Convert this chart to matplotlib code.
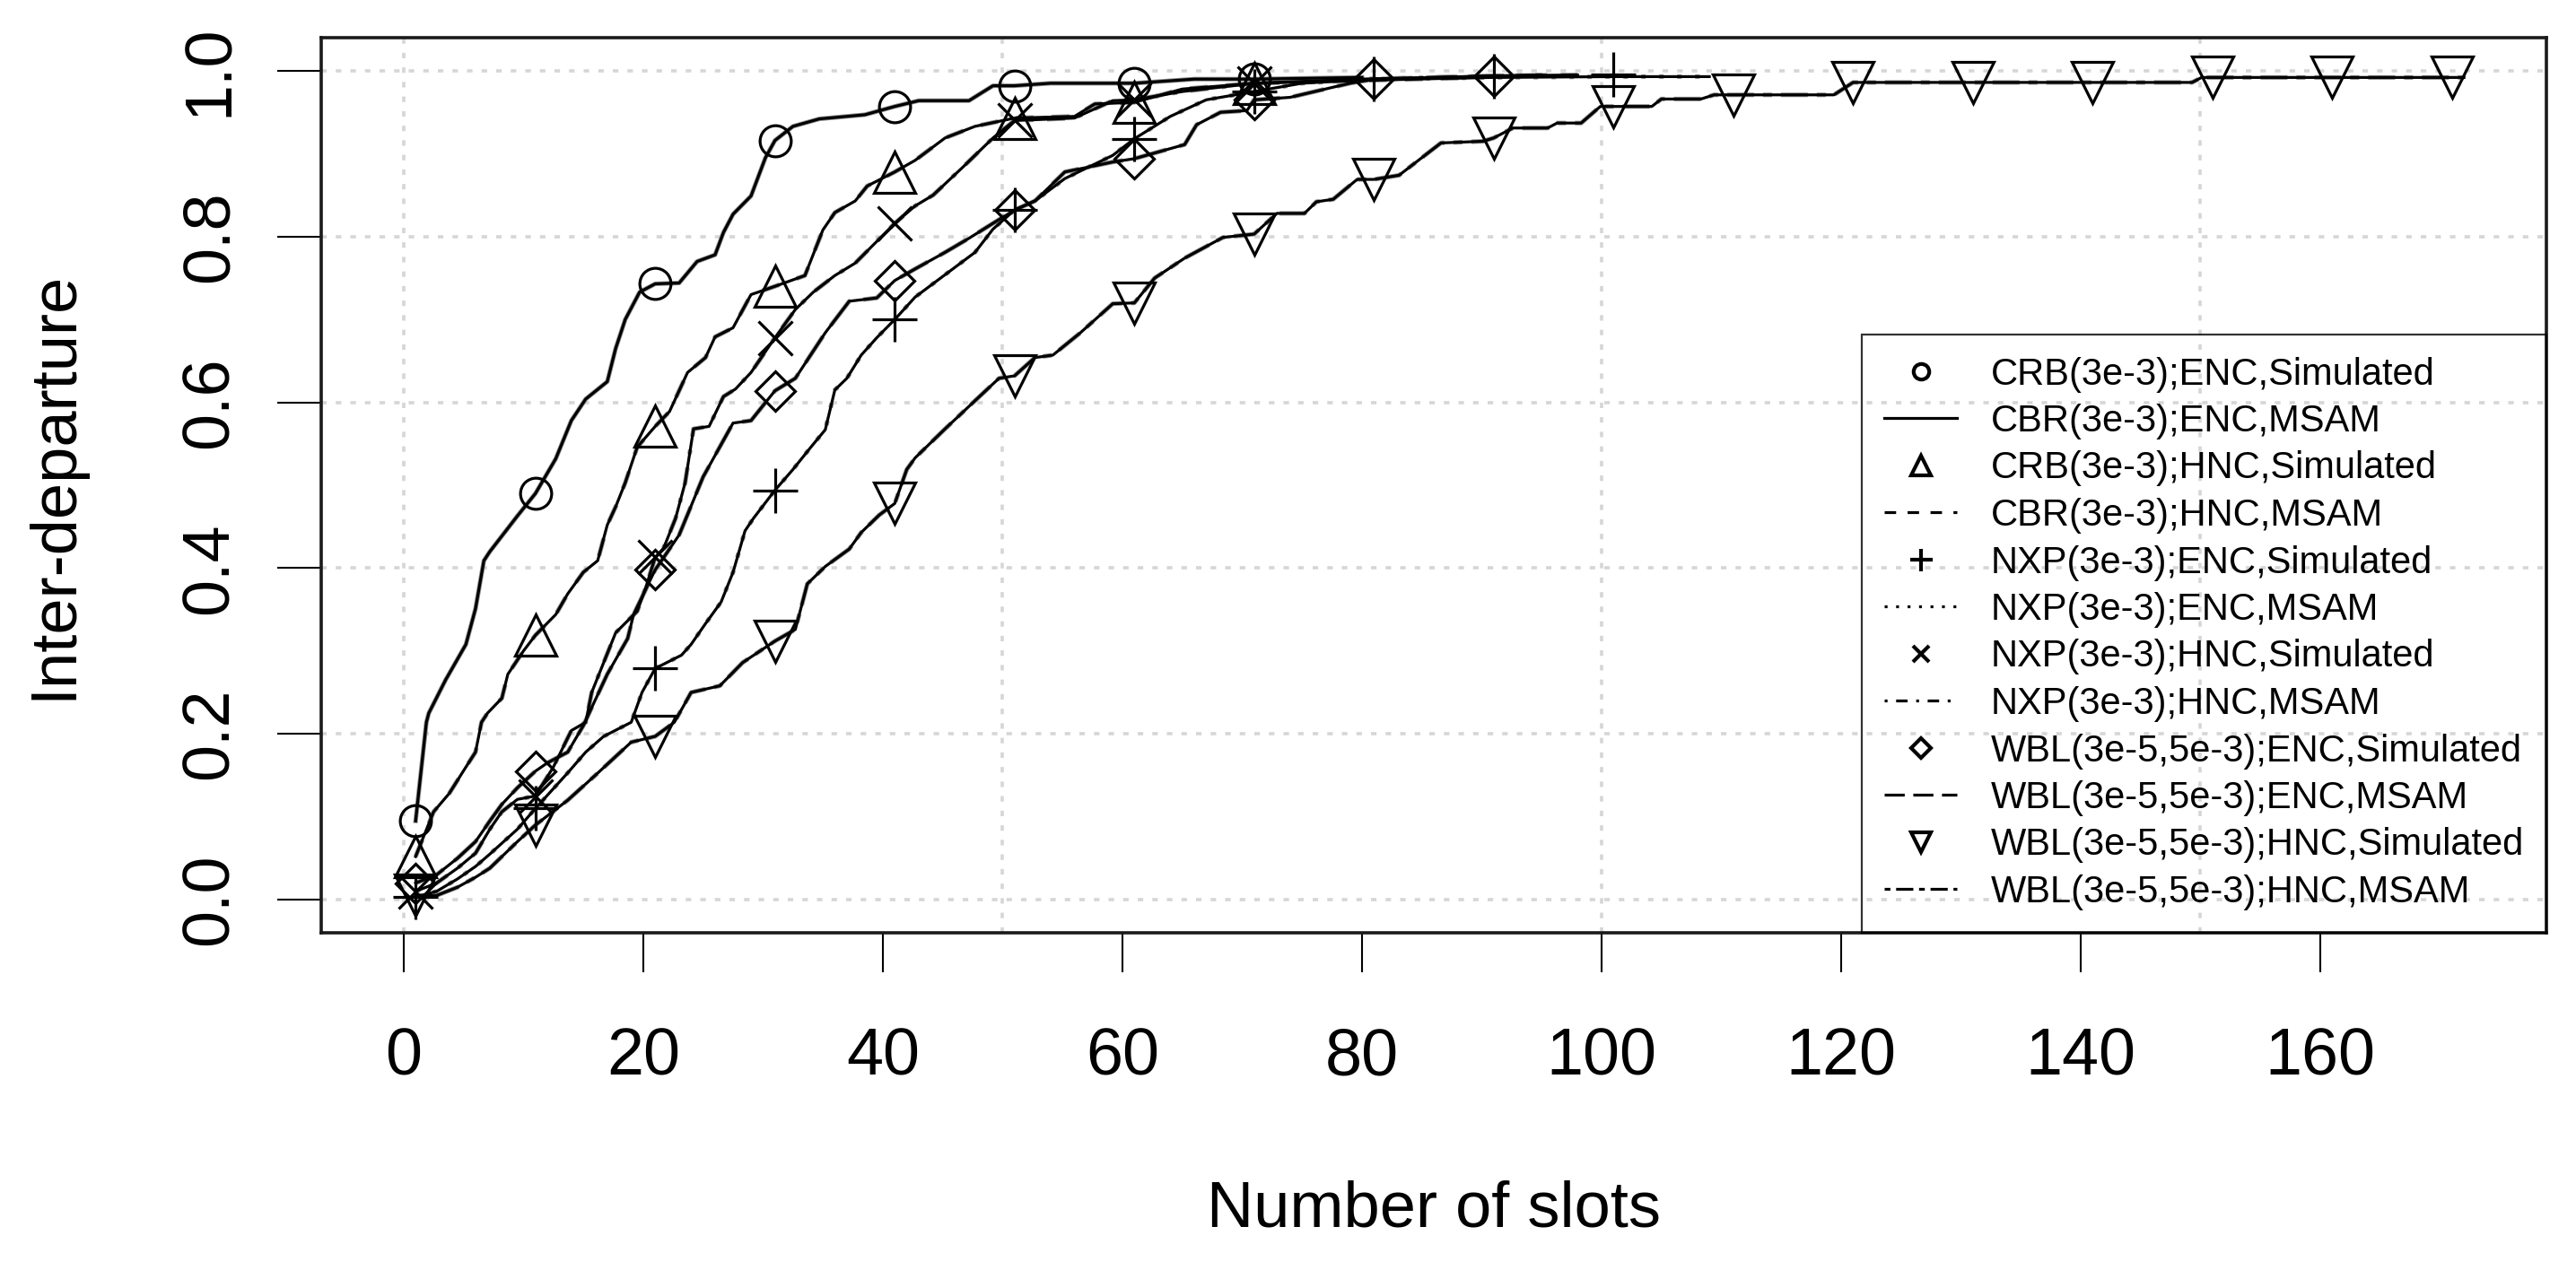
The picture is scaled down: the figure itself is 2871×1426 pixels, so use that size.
import matplotlib
matplotlib.use("Agg")
import matplotlib.pyplot as plt
from matplotlib.lines import Line2D

plt.rcParams['font.family'] = ['Liberation Sans', 'DejaVu Sans']

# ---------------- data ----------------
# Simulated markers are shown every 10 slots (1, 11, 21, ...)
crb_enc_mx = [1, 11, 21, 31, 41, 51, 61, 71]
crb_enc_my = [0.095, 0.49, 0.743, 0.916, 0.957, 0.982, 0.985, 0.99]
crb_enc_px = [1, 1.9, 2.1, 3.5, 5.2, 6, 6.7, 7.2, 9.5, 11, 12.7, 14, 15.2, 17, 17.7, 18.5, 19.7, 21,
              23, 24.5, 26, 26.7, 27.5, 29, 30.2, 31, 32.5, 34.7, 38.5, 41, 43, 47.2, 49.2, 51, 54,
              59, 61, 66, 71, 80]
crb_enc_py = [0.095, 0.214, 0.225, 0.265, 0.308, 0.351, 0.409, 0.42, 0.463, 0.49, 0.532, 0.578, 0.604,
              0.625, 0.665, 0.70, 0.733, 0.743, 0.744, 0.77, 0.778, 0.805, 0.827, 0.849, 0.895, 0.916,
              0.933, 0.942, 0.947, 0.957, 0.964, 0.964, 0.982, 0.982, 0.985, 0.985, 0.985, 0.99, 0.99, 0.992]

crb_hnc_mx = [1, 11, 21, 31, 41, 51, 61, 71]
crb_hnc_my = [0.052, 0.319, 0.571, 0.74, 0.878, 0.943, 0.962, 0.985]
crb_hnc_px = [1, 2.5, 3.8, 5.2, 6, 6.5, 7, 8.2, 8.7, 10, 11, 12.7, 13.7, 15, 16.2, 17, 17.7, 18.5, 19.5, 21,
              22.2, 23.7, 25.2, 26, 27.5, 29, 31, 33.5, 35, 36, 37.7, 38.7, 41, 42.7, 45.2, 47.7, 51, 56,
              57.7, 61, 65, 71, 90]
crb_hnc_py = [0.052, 0.106, 0.128, 0.16, 0.178, 0.214, 0.225, 0.243, 0.272, 0.30, 0.319, 0.344, 0.369,
              0.395, 0.409, 0.452, 0.474, 0.503, 0.546, 0.571, 0.589, 0.636, 0.654, 0.679, 0.69, 0.73,
              0.74, 0.753, 0.808, 0.829, 0.843, 0.861, 0.878, 0.892, 0.919, 0.933, 0.943, 0.945, 0.96,
              0.962, 0.978, 0.985, 0.992]

nxp_enc_mx = [1, 11, 21, 31, 41, 51, 61, 71, 81, 91, 101]
nxp_enc_my = [0.003, 0.11, 0.279, 0.494, 0.70, 0.832, 0.918, 0.975, 0.99, 0.994, 0.996]
nxp_enc_px = [1, 2.75, 4.5, 6, 7.2, 9.5, 11, 13.7, 15.2, 16.7, 19, 19.9, 21, 23.2, 24, 25.2, 26.5, 27.5,
              28.5, 29.2, 31, 32.5, 34, 35.2, 36, 37, 38.2, 39.5, 41, 42.7, 45.2, 47.7, 49.2, 51, 52.7,
              55.2, 59.2, 61, 64, 67, 71, 75, 81, 91, 101, 109]
nxp_enc_py = [0.003, 0.01, 0.025, 0.04, 0.055, 0.085, 0.11, 0.153, 0.178, 0.197, 0.214, 0.25, 0.279,
              0.295, 0.308, 0.333, 0.359, 0.395, 0.445, 0.46, 0.494, 0.519, 0.546, 0.567, 0.615, 0.629,
              0.657, 0.678, 0.70, 0.727, 0.754, 0.781, 0.809, 0.832, 0.843, 0.87, 0.898, 0.918, 0.945,
              0.965, 0.975, 0.985, 0.99, 0.992, 0.993, 0.993]

nxp_hnc_mx = [1, 11, 21, 31, 41, 51, 61, 71]
nxp_hnc_my = [0.01, 0.125, 0.413, 0.678, 0.816, 0.94, 0.965, 0.985]
nxp_hnc_px = [1, 2.75, 4.5, 6, 7.2, 8.2, 9.5, 11, 12.5, 14, 15.2, 15.7, 16.7, 17.7, 19.5, 20.2, 21, 21.7,
              22.7, 23.5, 24.2, 25.5, 26.7, 27.7, 29, 31, 32.7, 34.2, 36, 37.7, 41, 42.7, 44.2, 46.7,
              49.2, 51, 56, 59.2, 61, 65, 71, 80, 95]
nxp_hnc_py = [0.01, 0.02, 0.038, 0.056, 0.085, 0.106, 0.121, 0.125, 0.16, 0.204, 0.214, 0.25, 0.286,
              0.322, 0.348, 0.376, 0.413, 0.424, 0.46, 0.503, 0.568, 0.571, 0.607, 0.616, 0.636, 0.678,
              0.712, 0.733, 0.753, 0.768, 0.816, 0.837, 0.85, 0.884, 0.919, 0.94, 0.943, 0.964, 0.965,
              0.975, 0.985, 0.99, 0.995]

wbl_enc_mx = [1, 11, 21, 31, 41, 51, 61, 71, 81, 91]
wbl_enc_my = [0.02, 0.155, 0.398, 0.614, 0.747, 0.832, 0.894, 0.965, 0.99, 0.994]
wbl_enc_px = [1, 2.75, 4.5, 6, 7.2, 8.2, 9.5, 11, 12, 13.7, 15, 17, 18.7, 19.2, 21, 23, 25, 27.5, 29, 31,
              32.7, 35.2, 37.2, 39.5, 41, 42.7, 45.2, 47.2, 49.2, 51, 52.7, 55.2, 59.2, 61, 65.2, 66.2,
              68.2, 70.4, 71, 74, 79, 81, 91, 98]
wbl_enc_py = [0.02, 0.03, 0.05, 0.07, 0.095, 0.115, 0.135, 0.155, 0.165, 0.178, 0.21, 0.272, 0.315,
              0.344, 0.398, 0.44, 0.51, 0.575, 0.578, 0.614, 0.629, 0.684, 0.722, 0.726, 0.747, 0.761,
              0.781, 0.798, 0.816, 0.832, 0.843, 0.878, 0.89, 0.894, 0.911, 0.935, 0.95, 0.952, 0.965,
              0.968, 0.985, 0.99, 0.994, 0.995]

wbl_hnc_mx = [1, 11, 21, 31, 41, 51, 61, 71, 81, 91, 101, 111, 121, 131, 141, 151, 161, 171]
wbl_hnc_my = [0.005, 0.09, 0.197, 0.312, 0.478, 0.632, 0.72, 0.803, 0.869, 0.919, 0.957, 0.971,
              0.986, 0.986, 0.986, 0.992, 0.992, 0.992]
wbl_hnc_px = [1, 2.75, 4.5, 6, 7.2, 9.5, 11, 13.7, 16, 19, 21, 22.6, 24, 26.4, 28.3, 31, 32.7, 33.7,
              35.2, 37.2, 38.2, 39.7, 41, 42, 42.7, 45.2, 47.7, 49.7, 51, 52.7, 54.2, 56.5, 59.2, 61,
              62.7, 65.2, 68.4, 71, 72.9, 75.2, 76.2, 77.6, 79.6, 81, 83.1, 86.6, 90.1, 91, 92.6, 95.5,
              96.3, 98.3, 99.9, 104.2, 105, 108.3, 109.4, 119.4, 121, 149.3, 150.1, 172]
wbl_hnc_py = [0.005, 0.005, 0.015, 0.027, 0.038, 0.07, 0.09, 0.12, 0.15, 0.19, 0.197, 0.214, 0.25,
              0.258, 0.286, 0.312, 0.326, 0.381, 0.402, 0.423, 0.443, 0.464, 0.478, 0.519, 0.533,
              0.568, 0.602, 0.629, 0.632, 0.654, 0.657, 0.684, 0.719, 0.72, 0.75, 0.774, 0.799, 0.803,
              0.828, 0.828, 0.842, 0.845, 0.869, 0.869, 0.874, 0.913, 0.915, 0.919, 0.931, 0.931,
              0.937, 0.937, 0.957, 0.957, 0.966, 0.966, 0.971, 0.971, 0.986, 0.986, 0.992, 0.992]

sim_labels = ["CRB(3e-3);ENC,Simulated", "CRB(3e-3);HNC,Simulated", "NXP(3e-3);ENC,Simulated",
              "NXP(3e-3);HNC,Simulated", "WBL(3e-5,5e-3);ENC,Simulated", "WBL(3e-5,5e-3);HNC,Simulated"]
msam_labels = ["CBR(3e-3);ENC,MSAM", "CBR(3e-3);HNC,MSAM", "NXP(3e-3);ENC,MSAM",
               "NXP(3e-3);HNC,MSAM", "WBL(3e-5,5e-3);ENC,MSAM", "WBL(3e-5,5e-3);HNC,MSAM"]

x_ticks = [0, 20, 40, 60, 80, 100, 120, 140, 160]
y_ticks = [0.0, 0.2, 0.4, 0.6, 0.8, 1.0]
y_tick_labels = ["0.0", "0.2", "0.4", "0.6", "0.8", "1.0"]
x_grid = [0, 50, 100, 150]

# ---------------- styles ----------------
markers = ['o', '^', '+', 'x', 'D', 'v']
msizes = [25, 33, 36, 27, 22, 33]
dashes = ['-', (0, (4, 4)), (0, (1, 3)), (0, (1, 3, 4, 3)), (0, (7, 3)), (0, (2, 2, 6, 2))]

series = [
    (crb_enc_mx, crb_enc_my, crb_enc_px, crb_enc_py),
    (crb_hnc_mx, crb_hnc_my, crb_hnc_px, crb_hnc_py),
    (nxp_enc_mx, nxp_enc_my, nxp_enc_px, nxp_enc_py),
    (nxp_hnc_mx, nxp_hnc_my, nxp_hnc_px, nxp_hnc_py),
    (wbl_enc_mx, wbl_enc_my, wbl_enc_px, wbl_enc_py),
    (wbl_hnc_mx, wbl_hnc_my, wbl_hnc_px, wbl_hnc_py),
]

W, H = 2871, 1426
fig = plt.figure(figsize=(W / 100, H / 100), dpi=100)
ax = fig.add_axes([358 / W, 1 - 1040 / H, (2838 - 358) / W, (1040 - 42) / H])

grid_color = '#d6d6d6'
grid_ls = (0, (1.7, 2.8))
for gx in x_grid:
    ax.axvline(gx, color=grid_color, lw=2.6, ls=grid_ls, zorder=0)
for gy in y_ticks:
    ax.axhline(gy, color=grid_color, lw=2.6, ls=grid_ls, zorder=0)

handles = []
for i, (mx, my, px, py) in enumerate(series):
    ax.plot(px, py, color='#8a8a8a', lw=3.6, ls=dashes[i], zorder=2)
    ax.plot(px, py, color='black', lw=2.3, ls='-', zorder=3)
    ax.plot(mx, my, ls='none', marker=markers[i], ms=msizes[i], mfc='none',
            mec='black', mew=2.3, zorder=4)
    handles.append(Line2D([], [], ls='none', marker=markers[i], ms=msizes[i], mfc='none',
                          mec='black', mew=3.0, label=sim_labels[i]))
    handles.append(Line2D([], [], color='black', lw=2.3, ls=dashes[i], label=msam_labels[i]))

ax.set_xlim(-6.88, 178.88)
ax.set_ylim(-0.04, 1.04)
ax.set_xticks(x_ticks)
ax.set_xticklabels([str(v) for v in x_ticks])
ax.set_yticks(y_ticks)
ax.set_yticklabels(y_tick_labels)

ax.tick_params(axis='x', length=32, width=1.5, pad=43, labelsize=53, colors='black')
ax.tick_params(axis='y', length=35, width=1.5, pad=29, labelsize=53, labelrotation=90)
for lab in ax.get_yticklabels():
    lab.set_va('center')

for sp in ax.spines.values():
    sp.set_linewidth(2.6)
    sp.set_color('#1a1a1a')

ax.set_xlabel('Number of slots', fontsize=52, labelpad=74)
ax.set_ylabel('Inter-departure', fontsize=52, labelpad=76)

leg = ax.legend(handles=handles, loc='lower right', bbox_to_anchor=(1, 0), borderaxespad=0,
                fontsize=30, markerscale=0.5, handlelength=1.95, handletextpad=0.9,
                labelspacing=0.3, borderpad=0.6, fancybox=False, frameon=True)
fr = leg.get_frame()
fr.set_facecolor('none')
fr.set_edgecolor('black')
fr.set_linewidth(1.6)
leg.set_zorder(5)

fig.savefig('out.png', dpi=100)
